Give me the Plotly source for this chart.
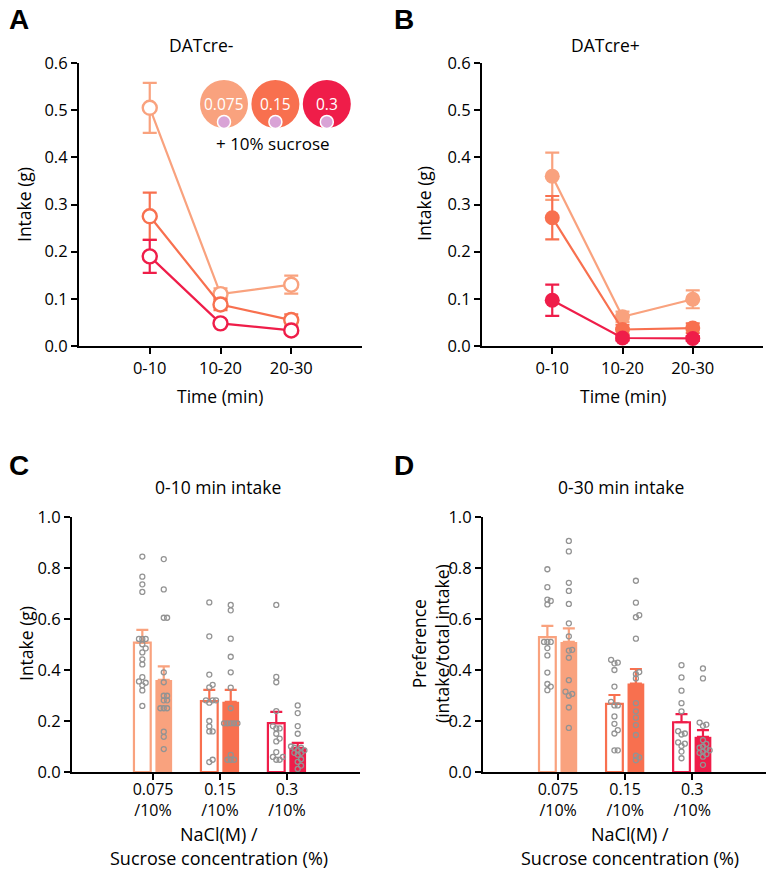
import plotly.graph_objects as go

W, H = 766, 883
FONT = "Open Sans"

# ---- data ----
times = ["0-10", "10-20", "20-30"]
nacl_labels = ["0.075<br>/10%", "0.15<br>/10%", "0.3<br>/10%"]
legend_labels = ["0.075", "0.15", "0.3"]
colors = ["#F9A27E", "#F8704F", "#EF1D49"]

# panel A, DATcre-  (mean, sem) per NaCl concentration
a_075 = [0.505, 0.110, 0.130]
a_075_sem = [0.053, 0.012, 0.019]
a_015 = [0.275, 0.088, 0.055]
a_015_sem = [0.050, 0.012, 0.012]
a_03 = [0.190, 0.048, 0.033]
a_03_sem = [0.035, 0.006, 0.006]

# panel B, DATcre+
b_075 = [0.360, 0.062, 0.099]
b_075_sem = [0.050, 0.011, 0.019]
b_015 = [0.272, 0.035, 0.038]
b_015_sem = [0.046, 0.010, 0.010]
b_03 = [0.097, 0.017, 0.016]
b_03_sem = [0.033, 0.005, 0.005]

# panel C, 0-10 min intake
c_neg_mean = [0.507, 0.278, 0.192]
c_neg_sem = [0.050, 0.044, 0.044]
c_pos_mean = [0.361, 0.275, 0.095]
c_pos_sem = [0.053, 0.047, 0.019]
c_neg_075 = [0.845, 0.766, 0.736, 0.706, 0.522, 0.522, 0.522, 0.501, 0.485, 0.469,
             0.442, 0.422, 0.372, 0.355, 0.350, 0.340, 0.320, 0.259]
c_pos_075 = [0.835, 0.716, 0.605, 0.605, 0.391, 0.352, 0.299, 0.299, 0.281, 0.281,
             0.250, 0.250, 0.250, 0.158, 0.138, 0.090]
c_neg_015 = [0.665, 0.532, 0.382, 0.342, 0.332, 0.281, 0.281, 0.281, 0.272, 0.200,
             0.179, 0.159, 0.159, 0.048, 0.039]
c_pos_015 = [0.655, 0.634, 0.523, 0.452, 0.391, 0.331, 0.250, 0.191, 0.191, 0.191,
             0.191, 0.191, 0.067, 0.048, 0.048, 0.048]
c_neg_03 = [0.655, 0.373, 0.352, 0.239, 0.180, 0.171, 0.171, 0.150, 0.131, 0.120,
            0.078, 0.059, 0.059, 0.048, 0.048]
c_pos_03 = [0.261, 0.231, 0.180, 0.150, 0.100, 0.095, 0.095, 0.085, 0.085, 0.075,
            0.075, 0.068, 0.050, 0.040, 0.025, 0.012]

# panel D, 0-30 min preference
d_neg_mean = [0.529, 0.267, 0.195]
d_neg_sem = [0.044, 0.035, 0.032]
d_pos_mean = [0.510, 0.347, 0.138]
d_pos_sem = [0.053, 0.057, 0.026]
d_neg_075 = [0.795, 0.725, 0.676, 0.671, 0.657, 0.510, 0.510, 0.510, 0.486, 0.457,
             0.390, 0.345, 0.335, 0.321]
d_pos_075 = [0.906, 0.865, 0.742, 0.710, 0.659, 0.583, 0.532, 0.479, 0.476, 0.448,
             0.360, 0.315, 0.306, 0.299, 0.253, 0.173]
d_neg_015 = [0.440, 0.429, 0.426, 0.400, 0.335, 0.275, 0.261, 0.261, 0.218, 0.189,
             0.164, 0.151, 0.085, 0.085]
d_pos_015 = [0.750, 0.664, 0.615, 0.607, 0.523, 0.392, 0.384, 0.367, 0.270, 0.238,
             0.213, 0.184, 0.145, 0.064, 0.057, 0.046]
d_neg_03 = [0.419, 0.371, 0.319, 0.270, 0.238, 0.160, 0.151, 0.147, 0.116, 0.111,
            0.102, 0.080, 0.054]
d_pos_03 = [0.406, 0.367, 0.194, 0.186, 0.181, 0.125, 0.110, 0.100, 0.095, 0.090,
            0.085, 0.080, 0.075, 0.070, 0.060, 0.028]


def swarm(vals, step, ythr):
    # simple beeswarm so overlapping dots spread sideways
    offs = [0.0] * len(vals)
    placed = []
    for i in sorted(range(len(vals)), key=lambda k: vals[k]):
        for n in range(0, 15):
            cands = [0.0] if n == 0 else [n * step, -n * step]
            hit = None
            for c in cands:
                if all(abs(vals[i] - vals[j]) >= ythr or abs(c - offs[j]) >= step * 0.999 for j in placed):
                    hit = c
                    break
            if hit is not None:
                offs[i] = hit
                break
        placed.append(i)
    return offs


fig = go.Figure()

# ---- panels A and B: lines ----
line_sets = [
    ("x", "y", [a_075, a_015, a_03], [a_075_sem, a_015_sem, a_03_sem], True),
    ("x2", "y2", [b_075, b_015, b_03], [b_075_sem, b_015_sem, b_03_sem], False),
]
for xa, ya, means, sems, hollow in line_sets:
    for k in range(3):
        fig.add_trace(go.Scatter(
            x=list(range(3)), y=means[k], xaxis=xa, yaxis=ya,
            mode="lines+markers", cliponaxis=False, showlegend=False,
            line=dict(color=colors[k], width=2.2),
            marker=dict(size=14 if hollow else 15, symbol="circle",
                        color="white" if hollow else colors[k],
                        line=dict(color=colors[k], width=2.4 if hollow else 0)),
            error_y=dict(type="data", array=sems[k], color=colors[k], thickness=2.2, width=7),
        ))

# ---- panels C and D: bars + dots ----
bar_sets = [
    ("x3", "y3", c_neg_mean, c_neg_sem, c_pos_mean, c_pos_sem,
     [c_neg_075, c_neg_015, c_neg_03], [c_pos_075, c_pos_015, c_pos_03]),
    ("x4", "y4", d_neg_mean, d_neg_sem, d_pos_mean, d_pos_sem,
     [d_neg_075, d_neg_015, d_neg_03], [d_pos_075, d_pos_015, d_pos_03]),
]
off = 0.16
bw = 0.25
for xa, ya, nm, ns, pm, ps, ndots, pdots in bar_sets:
    for k in range(3):
        fig.add_trace(go.Bar(
            x=[k - off], y=[nm[k]], width=bw, xaxis=xa, yaxis=ya, showlegend=False,
            marker=dict(color="white", line=dict(color=colors[k], width=2.2)),
            error_y=dict(type="data", array=[ns[k]], arrayminus=[0], symmetric=False,
                         color=colors[k], thickness=2.2, width=6),
        ))
        fig.add_trace(go.Bar(
            x=[k + off], y=[pm[k]], width=bw, xaxis=xa, yaxis=ya, showlegend=False,
            marker=dict(color=colors[k], line=dict(color=colors[k], width=0)),
            error_y=dict(type="data", array=[ps[k]], arrayminus=[0], symmetric=False,
                         color=colors[k], thickness=2.2, width=6),
        ))
    for k in range(3):
        for center, vals in ((k - off, ndots[k]), (k + off, pdots[k])):
            jit = swarm(vals, 0.05, 0.017)
            fig.add_trace(go.Scatter(
                x=[center + j for j in jit], y=vals, xaxis=xa, yaxis=ya,
                mode="markers", showlegend=False, cliponaxis=False,
                marker=dict(symbol="circle-open", size=5, color="#939393", line=dict(width=1.3)),
            ))


def fx(p):
    return p / W


def fy(p):
    return 1 - p / H


ax_common = dict(showline=True, linecolor="black", linewidth=2.2, ticks="outside",
                 ticklen=6, tickwidth=2.2, tickcolor="black", showgrid=False,
                 zeroline=False, automargin=False,
                 tickfont=dict(family=FONT, size=16.5, color="black"))
bar_x = dict(ax_common, tickfont=dict(family=FONT, size=16, color="black"), ticklabelstandoff=-4)

fig.update_layout(
    width=W, height=H, margin=dict(l=0, r=0, t=0, b=0),
    paper_bgcolor="white", plot_bgcolor="white", barmode="overlay",
    xaxis=dict(domain=[fx(79), fx(362)], range=[-1, 3], anchor="y",
               tickvals=[0, 1, 2], ticktext=times, **ax_common),
    yaxis=dict(domain=[fy(346), fy(63)], range=[0, 0.6], anchor="x",
               tickvals=[0, 0.1, 0.2, 0.3, 0.4, 0.5, 0.6], tickformat=".1f", **ax_common),
    xaxis2=dict(domain=[fx(482), fx(763)], range=[-1, 3], anchor="y2",
                tickvals=[0, 1, 2], ticktext=times, **ax_common),
    yaxis2=dict(domain=[fy(346), fy(63)], range=[0, 0.6], anchor="x2",
                tickvals=[0, 0.1, 0.2, 0.3, 0.4, 0.5, 0.6], tickformat=".1f", **ax_common),
    xaxis3=dict(domain=[fx(72), fx(360)], range=[-1.21, 3.09], anchor="y3",
                tickvals=[0, 1, 2], ticktext=nacl_labels, **bar_x),
    yaxis3=dict(domain=[fy(772), fy(517)], range=[0, 1.0], anchor="x3",
                tickvals=[0, 0.2, 0.4, 0.6, 0.8, 1.0], tickformat=".1f", **ax_common),
    xaxis4=dict(domain=[fx(483), fx(766)], range=[-1.12, 3.1], anchor="y4",
                tickvals=[0, 1, 2], ticktext=nacl_labels, **bar_x),
    yaxis4=dict(domain=[fy(772), fy(517)], range=[0, 1.0], anchor="x4",
                tickvals=[0, 0.2, 0.4, 0.6, 0.8, 1.0], tickformat=".1f", **ax_common),
)


def label(x, y, text, size=17.5, bold=False, angle=0):
    fig.add_annotation(x=fx(x), y=fy(y), xref="paper", yref="paper", text=text,
                       showarrow=False, xanchor="center", yanchor="middle", textangle=angle,
                       font=dict(family="Liberation Sans" if bold else FONT, size=size, color="black"))


label(19, 20, "<b>A</b>", 28, bold=True)
label(404, 20, "<b>B</b>", 28, bold=True)
label(19, 465, "<b>C</b>", 28, bold=True)
label(404, 465, "<b>D</b>", 28, bold=True)

label(201, 45, "DATcre-")
label(605, 45, "DATcre+")
label(220, 396, "Time (min)")
label(623, 396, "Time (min)")
label(24, 204, "Intake (g)", angle=-90)
label(424, 204, "Intake (g)", angle=-90)

label(218, 487, "0-10 min intake")
label(621, 487, "0-30 min intake")
label(26, 644, "Intake (g)", angle=-90)
label(430, 644, "Preference<br>(intake/total intake)", angle=-90)
label(219, 834, "NaCl(M) /", 18)
label(219, 858, "Sucrose concentration (%)", 18)
label(630, 834, "NaCl(M) /", 18)
label(630, 858, "Sucrose concentration (%)", 18)

# concentration legend bubbles in panel A
for k in range(3):
    cx = 224 + k * 51.4
    cy = 104
    r = 24
    fig.add_shape(type="circle", xref="paper", yref="paper",
                  x0=fx(cx - r), x1=fx(cx + r), y0=fy(cy + r), y1=fy(cy - r),
                  fillcolor=colors[k], line=dict(width=0))
    fig.add_shape(type="circle", xref="paper", yref="paper",
                  x0=fx(cx - 6.5), x1=fx(cx + 6.5), y0=fy(cy + 24.5), y1=fy(cy + 11.5),
                  fillcolor="#D9A3D6", line=dict(color="white", width=1.5))
    fig.add_annotation(x=fx(cx), y=fy(cy), xref="paper", yref="paper", text=legend_labels[k],
                       showarrow=False, xanchor="center", yanchor="middle",
                       font=dict(family=FONT, size=15.5, color="white"))
label(273, 143, "+ 10% sucrose", 17)

# drop the default page margin so the figure fills the window exactly
fig.write_html("out.html", config={"displayModeBar": False},
               post_script="document.body.style.margin='0';document.body.style.overflow='hidden';")
